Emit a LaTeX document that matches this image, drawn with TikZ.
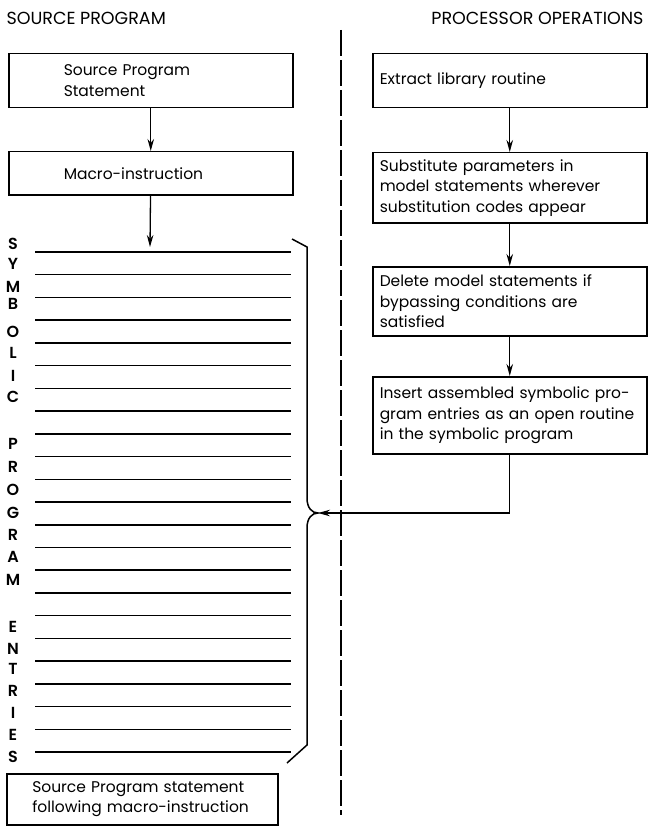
\documentclass[tikz,border=0pt]{standalone}
\usepackage{fontspec}
\setmainfont{Poppins}
\newfontfamily\letterfont{Poppins SemiBold}
\usetikzlibrary{arrows.meta}

\begin{document}
\begin{tikzpicture}[
    x=1pt, y=-1pt,
    font=\fontsize{15.5}{20.5}\selectfont,
    box/.style={rectangle, draw, line width=1.5pt, anchor=north west, inner sep=0pt, align=left},
    arrow/.style={-{Stealth[length=12pt,width=6.5pt]}, line width=1.3pt},
    entry/.style={line width=1.5pt},
    heading/.style={font=\fontsize{17.5}{20}\selectfont},
    letter/.style={inner sep=0pt, font=\letterfont\fontsize{16}{16}\selectfont}
]
    \useasboundingbox (0,0) rectangle (649,829);

    % headings and the dividing line
    \node[heading, anchor=west] (srchead) at (3,18) {SOURCE PROGRAM};
    \node[heading, anchor=east] (prochead) at (647,18) {PROCESSOR OPERATIONS};
    \draw[line width=1.4pt, dash pattern=on 26pt off 4pt] (341,30) -- (341,815);

    % source program side
    \node[box, minimum width=284pt, minimum height=54pt, text width=174pt] (src) at (8,53) {Source Program\\Statement};
    \node[box, minimum width=284pt, minimum height=43pt, text width=174pt] (macro) at (8,151) {Macro-instruction};
    \node[box, minimum width=271pt, minimum height=51pt, text width=220pt] (follow) at (6,773) {Source Program statement\\following macro-instruction};

    \coordinate (entrytop) at (150,247);
    \draw[arrow] (src) -- (macro);
    \draw[arrow] (macro) -- (entrytop);

    % symbolic program entries
    \foreach \i in {0,...,22}
        \draw[entry] (35,{252+22.73*\i}) -- (291,{252+22.73*\i});
    \foreach \ch/\y [count=\n] in {S/244, Y/264, M/287, B/304, O/332, L/353, I/376, C/397,
            P/444, R/467, O/490, G/513, R/535, A/557, M/580,
            E/627, N/649, T/669, R/691, I/713, E/735, S/757}
        \node[letter] (ch\n) at (13,\y) {\ch};

    % brace
    \coordinate (tip) at (318,513);
    \draw[entry] (292,239) -- (307,247) -- (307,498)
        .. controls (307,508) and (312,513) .. (tip)
        .. controls (312,513) and (307,518) .. (307,528)
        -- (307,745) -- (287,763);

    % processor operations side
    \node[box, minimum width=274pt, minimum height=54pt, text width=260pt] (extract) at (372,53) {Extract library routine};
    \node[box, minimum width=274pt, minimum height=70pt, text width=260pt] (subst) at (372,152) {Substitute parameters in\\model statements wherever\\substitution codes appear};
    \node[box, minimum width=274pt, minimum height=69pt, text width=260pt] (delete) at (372,266) {Delete model statements if\\bypassing conditions are\\satisfied};
    \node[box, minimum width=274pt, minimum height=77pt, text width=260pt] (insert) at (372,376) {Insert assembled symbolic pro-\\gram entries as an open routine\\in the symbolic program};

    \draw[arrow] (extract) -- (subst);
    \draw[arrow] (subst) -- (delete);
    \draw[arrow] (delete) -- (insert);
    \draw[arrow] (insert.south) |- (tip);
\end{tikzpicture}
\end{document}
